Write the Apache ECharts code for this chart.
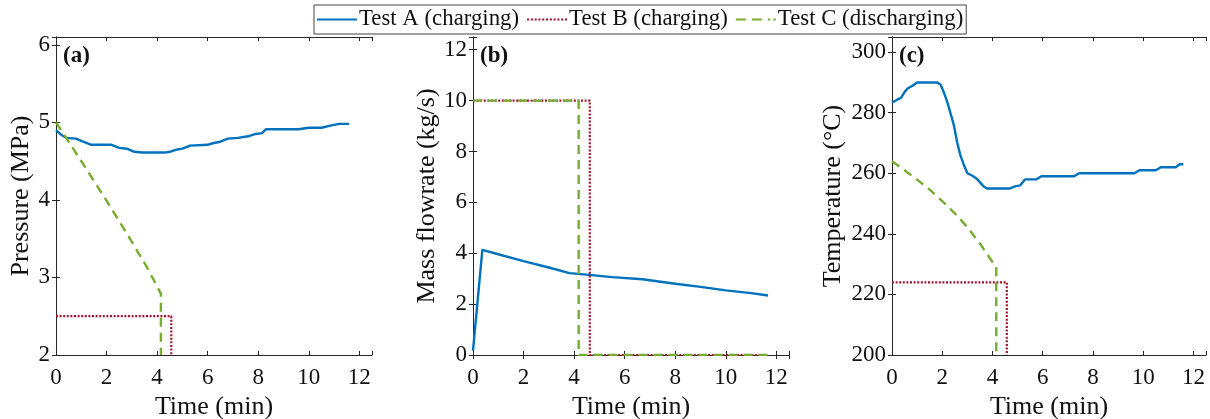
<!DOCTYPE html>
<html><head><meta charset="utf-8">
<script src="https://cdn.jsdelivr.net/npm/echarts@6/dist/echarts.min.js"></script>
<style>html,body{margin:0;padding:0;background:#fff}#c{width:1210px;height:419px}</style>
</head><body><div id="c"></div>
<script>
const seriesNames = ['Test A (charging)', 'Test B (charging)', 'Test C (discharging)'];
const panelLabels = ['(a)', '(b)', '(c)'];
const yNames = ['Pressure (MPa)', 'Mass flowrate (kg/s)', 'Temperature (°C)'];
const xName = 'Time (min)';

// Panel (a): pressure (MPa)
const aA_t = [0, 0.2, 0.4, 0.8, 1.0, 1.4, 2.2, 2.5, 2.8, 3.1, 3.4, 4.3, 4.5, 4.8, 5.0, 5.3, 6.0, 6.2, 6.5, 6.8, 7.2, 7.6, 7.9, 8.15, 8.3, 9.6, 10.0, 10.5, 10.9, 11.2, 11.6];
const aA_v = [4.90, 4.84, 4.80, 4.79, 4.76, 4.71, 4.71, 4.67, 4.66, 4.62, 4.61, 4.61, 4.62, 4.65, 4.66, 4.70, 4.71, 4.73, 4.75, 4.79, 4.80, 4.82, 4.85, 4.86, 4.91, 4.91, 4.93, 4.93, 4.96, 4.98, 4.98];
const aB_t = [0, 4.56, 4.56];
const aB_v = [2.5, 2.5, 2.0];
const aC_t = [0, 1, 2, 3, 3.6, 4.15, 4.15];
const aC_v = [5.0, 4.50, 3.99, 3.46, 3.13, 2.79, 2.0];

// Panel (b): mass flowrate (kg/s)
const bA_t = [0, 0.37, 1, 2, 3, 3.82, 4.6, 5.5, 6.7, 8, 9, 10, 11, 11.67];
const bA_v = [0.17, 4.13, 3.96, 3.69, 3.44, 3.22, 3.15, 3.06, 2.98, 2.80, 2.68, 2.54, 2.43, 2.34];
const bB_t = [0, 4.62, 4.62, 11.54];
const bB_v = [10, 10, 0, 0];
const bC_t = [0, 4.18, 4.18, 11.67];
const bC_v = [10, 10, 0, 0];

// Panel (c): temperature (°C)
const cA_t = [0, 0.2, 0.36, 0.5, 0.62, 0.8, 1.0, 1.8, 1.93, 2.05, 2.2, 2.46, 2.6, 2.72, 2.85, 3.0, 3.2, 3.4, 3.64, 3.78, 4.7, 4.9, 5.1, 5.3, 5.75, 5.95, 7.25, 7.45, 9.65, 9.85, 10.5, 10.7, 11.3, 11.45, 11.6];
const cA_v = [283.3, 284.3, 284.9, 286.8, 288, 288.8, 290, 290, 289.3, 287, 283.6, 276, 270, 266, 263, 260, 259.2, 258, 255.7, 255, 255, 255.7, 256, 258, 258, 259, 259, 260, 260, 261, 261, 262, 262, 263, 263];
const cB_t = [0, 4.57, 4.57];
const cB_v = [224, 224, 200];
const cC_t = [0, 0.5, 1, 1.5, 2, 2.5, 3, 3.5, 4, 4.15, 4.15];
const cC_v = [264, 261, 257.9, 254.6, 250.8, 246.8, 242.2, 236.8, 230.7, 229.3, 200];

const zip = (t, v) => t.map((x, i) => [x, v[i]]);
const panels = [
  [zip(aA_t, aA_v), zip(aB_t, aB_v), zip(aC_t, aC_v)],
  [zip(bA_t, bA_v), zip(bB_t, bB_v), zip(bC_t, bC_v)],
  [zip(cA_t, cA_v), zip(cB_t, cB_v), zip(cC_t, cC_v)]
];

const FONT = '"Liberation Serif", "Times New Roman", serif';
const AX = '#262626';
const TXT = '#111';
const grids = [
  {left: 56, top: 37, width: 316, height: 318, outerBoundsMode: 'none', containLabel: false},
  {left: 473, top: 37, width: 316, height: 318, outerBoundsMode: 'none', containLabel: false},
  {left: 892, top: 37, width: 314, height: 318, outerBoundsMode: 'none', containLabel: false}
];
const yRanges = [
  {min: 2, max: 6.1, interval: 1},
  {min: 0, max: 12.5, interval: 2},
  {min: 200, max: 305, interval: 20}
];
const yNameGaps = [22, 32, 46];
const lineStyles = [
  {color: '#0072BD', width: 2.4, type: 'solid'},
  {color: '#A2142F', width: 2.2, type: [2, 1.6]},
  {color: '#77AC30', width: 2.4, type: [9, 6]}
];

// legend sample icons drawn as dash patterns (width 40, height 2)
function dashPath(segs) {
  return 'path://' + segs.map(s => `M${s[0]},0H${s[1]}V2H${s[0]}Z`).join('');
}
const iconSolid = dashPath([[0, 40]]);
const dotSegs = []; for (let x = 0; x + 2 <= 40.01; x += 3.6) dotSegs.push([x, x + 2]);
const iconDotted = dashPath(dotSegs);
const iconDashed = dashPath([[0, 10], [16, 26], [32, 34.5], [37.5, 40]]);
const legendIcons = [iconSolid, iconDotted, iconDashed];

const fmt = (interval) => (v) => {
  const r = v / interval;
  return Math.abs(r - Math.round(r)) < 1e-6 ? String(Math.round(v * 100) / 100) : '';
};

const xAxes = [], yAxes = [], series = [];
grids.forEach((g, i) => {
  xAxes.push({
    gridIndex: i, type: 'value', min: 0, max: 12.5, interval: 2, position: 'bottom',
    axisLine: {show: true, lineStyle: {color: AX, width: 1}},
    axisTick: {show: true, inside: true, length: 4, lineStyle: {color: AX}},
    splitLine: {show: false},
    name: xName, nameLocation: 'middle', nameGap: 38,
    nameTextStyle: {fontFamily: FONT, fontSize: 26, color: TXT},
    axisLabel: {fontFamily: FONT, fontSize: 23, color: TXT, margin: 11, formatter: fmt(2)}
  });
  const yr = yRanges[i];
  yAxes.push({
    gridIndex: i, type: 'value', min: yr.min, max: yr.max, interval: yr.interval,
    position: 'left',
    axisLine: {show: true, lineStyle: {color: AX, width: 1}},
    axisTick: {show: true, inside: true, length: 4, lineStyle: {color: AX}},
    splitLine: {show: false},
    name: yNames[i], nameLocation: 'middle', nameGap: yNameGaps[i],
    nameTextStyle: {fontFamily: FONT, fontSize: 26, color: TXT},
    axisLabel: {fontFamily: FONT, fontSize: 23, color: TXT, margin: 6, formatter: fmt(yr.interval)}
  });
  panels[i].forEach((d, k) => {
    series.push({
      name: seriesNames[k], type: 'line', xAxisIndex: i, yAxisIndex: i,
      data: d, symbol: 'none', showSymbol: false, smooth: false,
      lineStyle: lineStyles[k], itemStyle: {color: lineStyles[k].color},
      animation: false, z: 2 + k
    });
  });
});
grids.forEach((g, i) => {
  xAxes.push({
    gridIndex: i, type: 'value', min: 0, max: 12.5, interval: 2, position: 'top',
    axisLine: {show: true, lineStyle: {color: AX, width: 1}},
    axisTick: {show: true, inside: true, length: 4, lineStyle: {color: AX}},
    axisLabel: {show: false}, splitLine: {show: false}
  });
  const yr = yRanges[i];
  yAxes.push({
    gridIndex: i, type: 'value', min: yr.min, max: yr.max, interval: yr.interval, position: 'right',
    axisLine: {show: true, lineStyle: {color: AX, width: 1}},
    axisTick: {show: true, inside: true, length: 4, lineStyle: {color: AX}},
    axisLabel: {show: false}, splitLine: {show: false}
  });
});

const chart = echarts.init(document.getElementById('c'), null, {renderer: 'canvas'});
chart.setOption({
  animation: false,
  backgroundColor: '#fff',
  grid: grids,
  xAxis: xAxes,
  yAxis: yAxes,
  legend: {
    data: seriesNames.map((n, k) => ({name: n, icon: legendIcons[k]})),
    left: 314, top: 5,
    padding: [3, 3, 3, 3],
    itemGap: 8, itemWidth: 40, itemHeight: 2.4,
    borderColor: '#444', borderWidth: 1,
    textStyle: {fontFamily: FONT, fontSize: 22.8, color: TXT, padding: [0, 0, 0, -3]},
    selectedMode: false
  },
  graphic: grids.map((g, i) => ({
    type: 'text', left: g.left + 7, top: 45,
    style: {text: panelLabels[i], font: 'bold 23px ' + FONT, fill: TXT}
  })),
  series: series
});
</script>
</body></html>
